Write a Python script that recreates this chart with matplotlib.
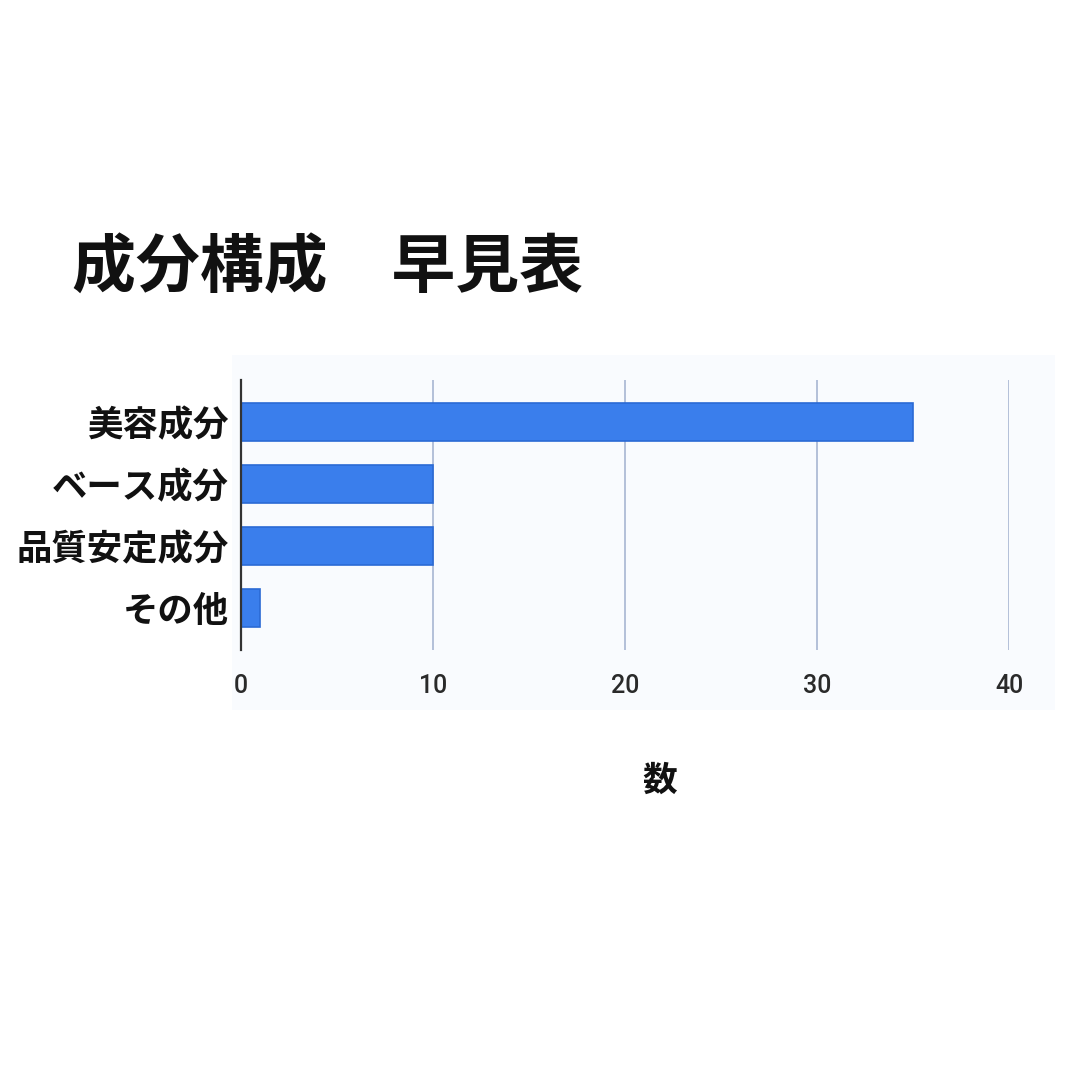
import matplotlib
matplotlib.use("Agg")
import matplotlib.pyplot as plt
from matplotlib.patches import Rectangle

categories = ["美容成分", "ベース成分", "品質安定成分", "その他"]
values = [35, 10, 10, 1]
xticks = [0, 10, 20, 30, 40]
title = "成分構成　早見表"
xlabel = "数"

plt.rcParams['font.family'] = ['Noto Sans CJK JP', 'DejaVu Sans']

W = H = 1080
fig = plt.figure(figsize=(10.8, 10.8), dpi=100)
fig.patch.set_facecolor("white")

# light panel background
fig.patches.append(Rectangle((232 / W, 1 - 710 / H), (1055 - 232) / W, (710 - 355) / H,
                             transform=fig.transFigure, facecolor="#f9fbfe",
                             edgecolor="none", zorder=-5))

ax = fig.add_axes([241 / W, 1 - 650 / H, (1009 - 241) / W, (650 - 380) / H])
ax.set_facecolor("none")

y = range(len(categories))
ax.barh(list(y), values, height=0.61, color="#3a7eec", edgecolor="#2b6ad4",
        linewidth=1.2, zorder=3)

ax.set_xlim(0, 40)
ax.set_ylim(3.677, -0.677)
ax.set_xticks(xticks)
ax.set_xticklabels([str(t) for t in xticks], fontsize=18, color="#2a2a2a",
                   fontweight="medium", family=['Roboto', 'DejaVu Sans'])
ax.set_yticks(list(y))
ax.set_yticklabels(categories, fontsize=25.5, fontweight="bold", color="#111111")
ax.tick_params(axis="both", length=0)
ax.tick_params(axis="x", pad=17)
ax.tick_params(axis="y", pad=9)

ax.grid(axis="x", color="#aebbd6", linewidth=1.3, zorder=1)
for s in ["top", "right", "bottom"]:
    ax.spines[s].set_visible(False)
ax.spines["left"].set_color("#333333")
ax.spines["left"].set_linewidth(1.6)
ax.spines["left"].set_zorder(4)

fig.text(72 / W, 1 - 268 / H, title, fontsize=46, fontweight="bold",
         color="#111111", va="center", ha="left")
fig.text(660 / W, 1 - 780 / H, xlabel, fontsize=25, fontweight="bold",
         color="#111111", va="center", ha="center")

fig.savefig("out.png", dpi=100, facecolor="white")
